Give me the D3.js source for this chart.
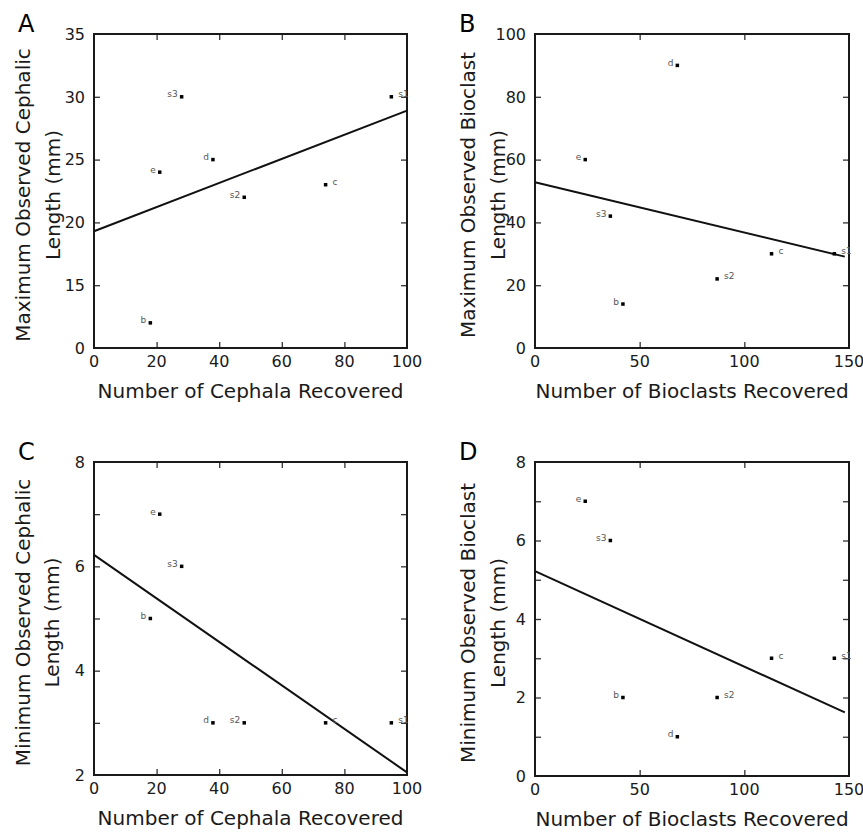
<!DOCTYPE html>
<html>
<head>
<meta charset="utf-8">
<script src="https://cdn.jsdelivr.net/npm/d3@7"></script>
<style>
  body { margin: 0; background: #fff; }
  text { font-family: "DejaVu Sans", sans-serif; fill: #1a1a1a; }
</style>
</head>
<body>
<svg id="chart" width="863" height="832"></svg>
<script>
// sites, same order in every array
var sites = ["b", "c", "d", "e", "s1", "s2", "s3"];

var cephalaRecovered = [18, 74, 38, 21, 95, 48, 28];
var maxCephalic = [12, 23, 25, 24, 30, 22, 30];
var minCephalic = [5, 3, 3, 7, 3, 3, 6];

var bioclastsRecovered = [42, 113, 68, 24, 143, 87, 36];
var maxBioclast = [14, 30, 90, 60, 30, 22, 42];
var minBioclast = [2, 3, 1, 7, 3, 2, 6];

// regression lines, [x0, y0, x1, y1]
var fitA = [0, 19.3, 100, 28.9];
var fitB = [0, 52.8, 148, 29.1];
var fitC = [0, 6.22, 100, 2.05];
var fitD = [0, 5.22, 148, 1.62];

var cephalaTicks = [0, 20, 40, 60, 80, 100];
var bioclastTicks = [0, 50, 100, 150];
var yTicksA = [10, 15, 20, 25, 30, 35];
var yLabelsA = ["0", "15", "20", "25", "30", "35"];
var yTicksB = [0, 20, 40, 60, 80, 100];
var yLabelsB = ["0", "20", "40", "60", "80", "100"];
var yTicksC = [2, 3, 4, 5, 6, 7, 8];
var yLabelsC = ["2", "", "4", "", "6", "", "8"];
var yTicksD = [0, 1, 2, 3, 4, 5, 6, 7, 8];
var yLabelsD = ["0", "", "2", "", "4", "", "6", "", "8"];

var svg = d3.select("#chart");

var panels = [
  { letter: "A", left: 94, right: 407, top: 34, bottom: 348,
    xs: cephalaRecovered, ys: maxCephalic, xDomain: [0, 100], yDomain: [10, 35],
    xTicks: cephalaTicks, yTicks: yTicksA, yLabels: yLabelsA, fit: fitA,
    xTitle: "Number of Cephala Recovered",
    yTitle: ["Maximum Observed Cephalic", "Length (mm)"], titleOff: [-64, -34],
    rightLabels: ["c", "s1"] },
  { letter: "B", left: 535, right: 849, top: 34, bottom: 348,
    xs: bioclastsRecovered, ys: maxBioclast, xDomain: [0, 150], yDomain: [0, 100],
    xTicks: bioclastTicks, yTicks: yTicksB, yLabels: yLabelsB, fit: fitB,
    xTitle: "Number of Bioclasts Recovered",
    yTitle: ["Maximum Observed Bioclast", "Length (mm)"], titleOff: [-60, -30],
    rightLabels: ["c", "s1", "s2"] },
  { letter: "C", left: 94, right: 407, top: 462, bottom: 775,
    xs: cephalaRecovered, ys: minCephalic, xDomain: [0, 100], yDomain: [2, 8],
    xTicks: cephalaTicks, yTicks: yTicksC, yLabels: yLabelsC, fit: fitC,
    xTitle: "Number of Cephala Recovered",
    yTitle: ["Minimum Observed Cephalic", "Length (mm)"], titleOff: [-64, -35],
    rightLabels: ["c", "s1"] },
  { letter: "D", left: 535, right: 849, top: 462, bottom: 776,
    xs: bioclastsRecovered, ys: minBioclast, xDomain: [0, 150], yDomain: [0, 8],
    xTicks: bioclastTicks, yTicks: yTicksD, yLabels: yLabelsD, fit: fitD,
    xTitle: "Number of Bioclasts Recovered",
    yTitle: ["Minimum Observed Bioclast", "Length (mm)"], titleOff: [-60, -30],
    rightLabels: ["c", "s1", "s2"] }
];

panels.forEach(function (p, pi) {
  var x = d3.scaleLinear().domain(p.xDomain).range([p.left, p.right]);
  var y = d3.scaleLinear().domain(p.yDomain).range([p.bottom, p.top]);
  var g = svg.append("g");
  var tickLen = 6;

  // inward ticks on all four sides
  var xIn = p.xTicks.slice(1, -1);
  var yIn = p.yTicks.slice(1, -1);

  g.append("g")
    .attr("transform", "translate(0," + p.bottom + ")")
    .call(d3.axisBottom(x).tickValues(xIn).tickSize(-tickLen).tickFormat("").tickSizeOuter(0));
  g.append("g")
    .attr("transform", "translate(0," + p.top + ")")
    .call(d3.axisTop(x).tickValues(xIn).tickSize(-tickLen).tickFormat("").tickSizeOuter(0));
  g.append("g")
    .attr("transform", "translate(" + p.left + ",0)")
    .call(d3.axisLeft(y).tickValues(yIn).tickSize(-tickLen).tickFormat("").tickSizeOuter(0));
  g.append("g")
    .attr("transform", "translate(" + p.right + ",0)")
    .call(d3.axisRight(y).tickValues(yIn).tickSize(-tickLen).tickFormat("").tickSizeOuter(0));

  g.selectAll(".domain").remove();
  g.selectAll(".tick line").attr("stroke", "#333").attr("stroke-width", 1.3);

  // tick labels
  g.selectAll(".xlab")
    .data(p.xTicks)
    .enter().append("text")
    .attr("x", function (d) { return x(d); })
    .attr("y", p.bottom + 19)
    .attr("text-anchor", "middle")
    .style("font-size", "16px")
    .text(function (d) { return d; });

  g.selectAll(".ylab")
    .data(p.yTicks)
    .enter().append("text")
    .attr("x", p.left - 9)
    .attr("y", function (d) { return y(d); })
    .attr("dy", "0.36em")
    .attr("text-anchor", "end")
    .style("font-size", "16px")
    .text(function (d, i) { return p.yLabels[i]; });

  // frame
  g.append("rect")
    .attr("x", p.left).attr("y", p.top)
    .attr("width", p.right - p.left).attr("height", p.bottom - p.top)
    .attr("fill", "none").attr("stroke", "#1a1a1a").attr("stroke-width", 2);

  // fit line
  g.append("line")
    .attr("x1", x(p.fit[0])).attr("y1", y(p.fit[1]))
    .attr("x2", x(p.fit[2])).attr("y2", y(p.fit[3]))
    .attr("stroke", "#111").attr("stroke-width", 2);

  // points
  var pts = sites.map(function (s, i) { return { site: s, x: p.xs[i], y: p.ys[i] }; });

  g.selectAll(".pt")
    .data(pts)
    .enter().append("rect")
    .attr("x", function (d) { return x(d.x) - 1.75; })
    .attr("y", function (d) { return y(d.y) - 1.75; })
    .attr("width", 3.5).attr("height", 3.5)
    .attr("fill", "#000");

  g.selectAll(".ptlab")
    .data(pts)
    .enter().append("text")
    .attr("x", function (d) {
      return p.rightLabels.indexOf(d.site) >= 0 ? x(d.x) + 7 : x(d.x) - 4;
    })
    .attr("y", function (d) { return y(d.y) + 0.5; })
    .attr("text-anchor", function (d) { return p.rightLabels.indexOf(d.site) >= 0 ? "start" : "end"; })
    .style("font-size", "9px")
    .style("fill", "#555")
    .text(function (d) { return d.site; });

  // axis titles
  var cx = (p.left + p.right) / 2;
  var cy = (p.top + p.bottom) / 2 + 4;
  g.append("text")
    .attr("x", cx).attr("y", p.bottom + 50)
    .attr("text-anchor", "middle")
    .style("font-size", "20px")
    .text(p.xTitle);

  p.yTitle.forEach(function (t, k) {
    g.append("text")
      .attr("transform", "translate(" + (p.left + p.titleOff[k]) + "," + cy + ") rotate(-90)")
      .attr("text-anchor", "middle")
      .style("font-size", "20px")
      .text(t);
  });

  // panel letter
  g.append("text")
    .attr("x", p.left - 76)
    .attr("y", p.top - 2)
    .style("font-size", "24px")
    .style("fill", "#000")
    .text(p.letter);
});
</script>
</body>
</html>
